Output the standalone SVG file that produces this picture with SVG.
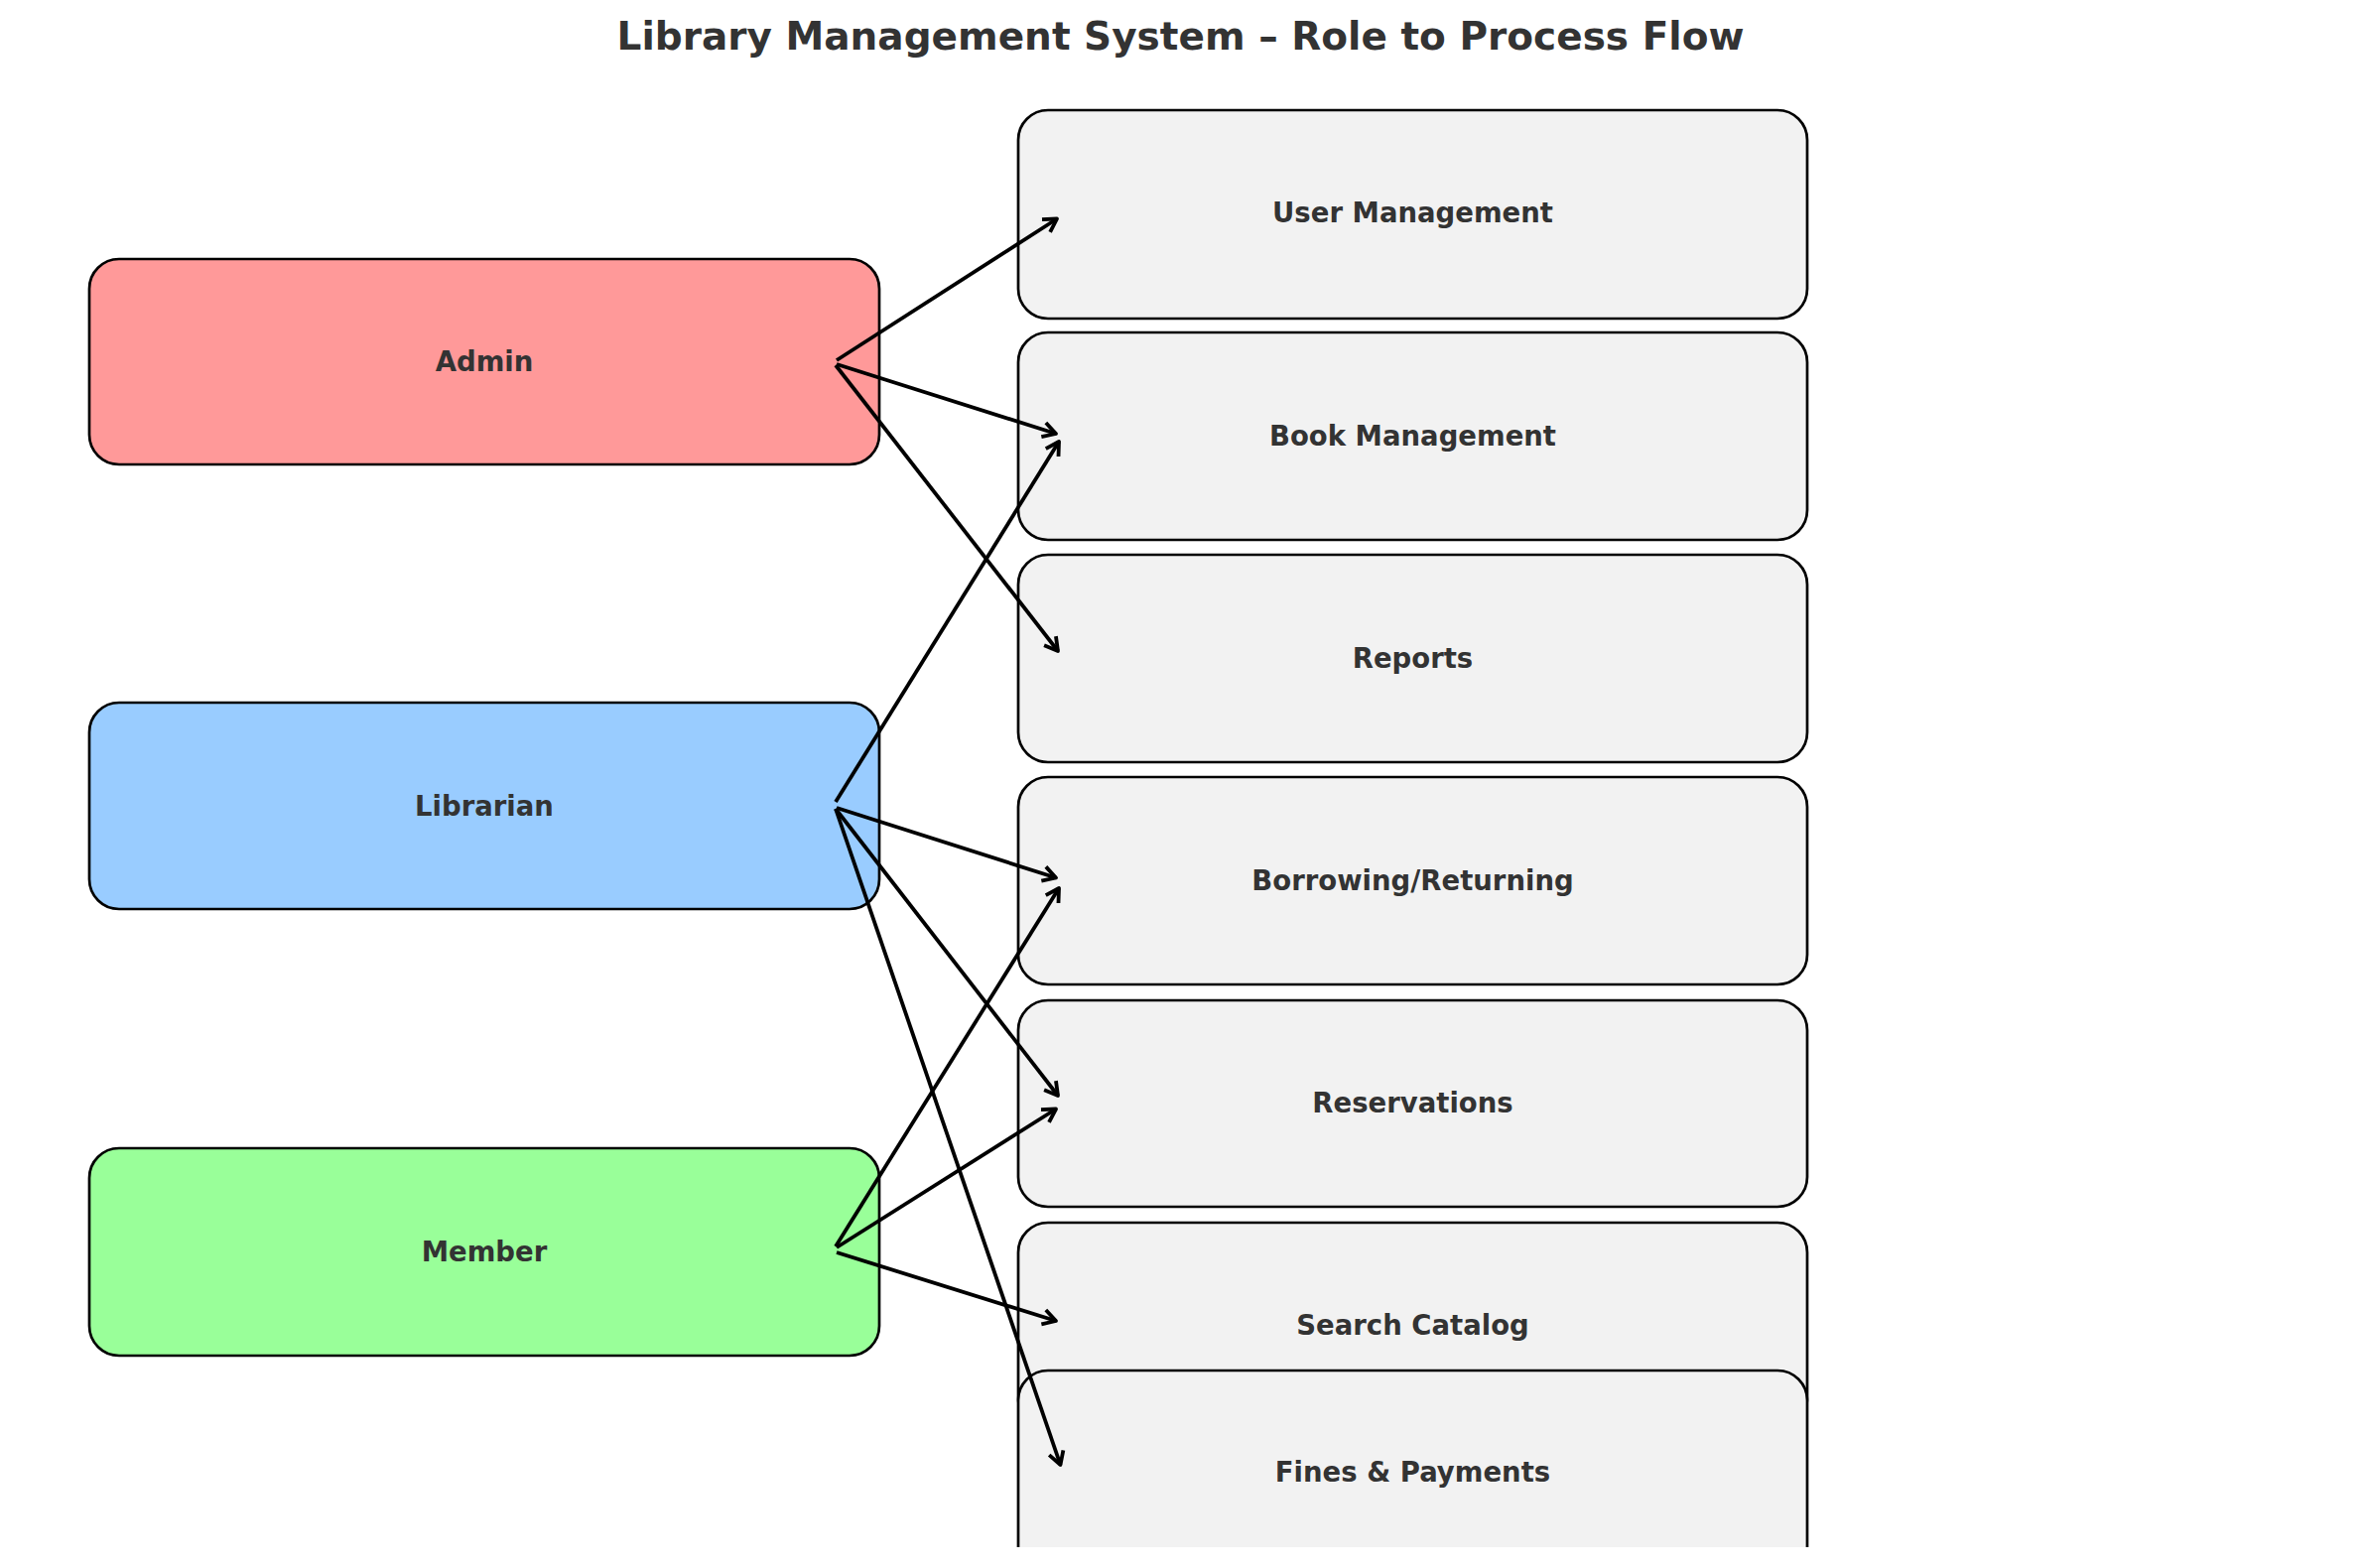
<svg xmlns="http://www.w3.org/2000/svg" width="2379" height="1580" viewBox="0 0 2379 1580">
<style>
.box{stroke:#000;stroke-width:2.7}
.role-admin{fill:#ff9999}
.role-lib{fill:#99ccff}
.role-mem{fill:#99ff99}
.proc{fill:#f2f2f2}
.lbl{font-family:"DejaVu Sans","Liberation Sans",sans-serif;font-weight:bold;font-size:27.5px;fill:#333333;text-anchor:middle}
.title{font-family:"DejaVu Sans","Liberation Sans",sans-serif;font-weight:bold;font-size:39px;fill:#333333;text-anchor:middle}
.edge{fill:none;stroke:#000;stroke-width:3.8;marker-end:url(#ah)}
</style>
<defs>
<marker id="ah" markerUnits="userSpaceOnUse" markerWidth="40" markerHeight="40" viewBox="-20 -20 40 40" refX="0" refY="0" orient="auto" overflow="visible">
<path d="M-13,-7.5 L0,0 L-13,7.5" fill="none" stroke="#000" stroke-width="3.8" stroke-linejoin="round" stroke-linecap="butt"/>
</marker>
<clipPath id="plot"><rect x="0" y="0" width="2379" height="1559"/></clipPath>
</defs>
<rect x="0" y="0" width="2379" height="1580" fill="#ffffff"/>
<text class="title" x="1189.5" y="50">Library Management System – Role to Process Flow</text>
<g clip-path="url(#plot)">
<g id="node-admin"><rect class="box role-admin" x="90" y="261" width="796" height="207" rx="30" ry="30"/><text class="lbl" x="488" y="374">Admin</text></g>
<g id="node-librarian"><rect class="box role-lib" x="90" y="708" width="796" height="208" rx="30" ry="30"/><text class="lbl" x="488" y="822">Librarian</text></g>
<g id="node-member"><rect class="box role-mem" x="90" y="1157" width="796" height="209" rx="30" ry="30"/><text class="lbl" x="488" y="1271">Member</text></g>
<g id="node-user-management"><rect class="box proc" x="1026" y="111" width="795" height="210" rx="30" ry="30"/><text class="lbl" x="1423.5" y="224">User Management</text></g>
<g id="node-book-management"><rect class="box proc" x="1026" y="335" width="795" height="209" rx="30" ry="30"/><text class="lbl" x="1423.5" y="448.5">Book Management</text></g>
<g id="node-reports"><rect class="box proc" x="1026" y="559" width="795" height="209" rx="30" ry="30"/><text class="lbl" x="1423.5" y="672.5">Reports</text></g>
<g id="node-borrowing"><rect class="box proc" x="1026" y="783" width="795" height="209" rx="30" ry="30"/><text class="lbl" x="1423.5" y="896.5">Borrowing/Returning</text></g>
<g id="node-reservations"><rect class="box proc" x="1026" y="1008" width="795" height="208" rx="30" ry="30"/><text class="lbl" x="1423.5" y="1121">Reservations</text></g>
<g id="node-search-catalog"><rect class="box proc" x="1026" y="1232" width="795" height="208" rx="30" ry="30"/><text class="lbl" x="1423.5" y="1345">Search Catalog</text></g>
<g id="node-fines-payments"><rect class="box proc" x="1026" y="1381" width="795" height="208" rx="30" ry="30"/><text class="lbl" x="1423.5" y="1493">Fines &amp; Payments</text></g>
<g id="connectors">
<line class="edge" x1="843" y1="363" x2="1065" y2="220.5"/>
<line class="edge" x1="843" y1="367" x2="1064" y2="437"/>
<line class="edge" x1="842" y1="368" x2="1066" y2="656"/>
<line class="edge" x1="842" y1="808" x2="1067" y2="445"/>
<line class="edge" x1="843" y1="814" x2="1064" y2="884.5"/>
<line class="edge" x1="842" y1="815" x2="1066" y2="1104"/>
<line class="edge" x1="842" y1="815" x2="1068.5" y2="1476"/>
<line class="edge" x1="842" y1="1256" x2="1067" y2="895"/>
<line class="edge" x1="843" y1="1257" x2="1064" y2="1117.5"/>
<line class="edge" x1="843" y1="1262" x2="1064" y2="1331"/>
</g>
</g>
</svg>
